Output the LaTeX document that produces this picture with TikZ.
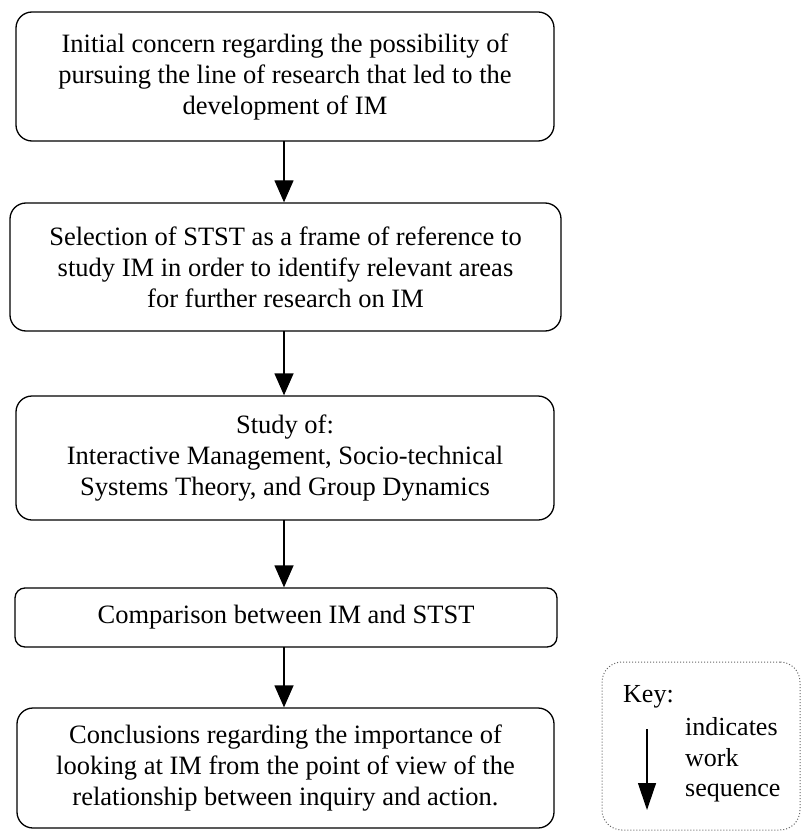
\documentclass[tikz,border=0pt]{standalone}
\usepackage{fontspec}
\setmainfont{Liberation Serif}
\usetikzlibrary{arrows.meta}
\begin{document}
\begin{tikzpicture}[x=1pt,y=-1pt,
  stagebox/.style={draw, line width=1.3pt, rounded corners=16pt, align=center,
    inner sep=0pt, font=\fontsize{26.5}{31}\selectfont},
  flow/.style={line width=1.3pt, -{Triangle[width=19pt,length=22pt]}},
  keybox/.style={draw, line width=1pt, dotted, rounded corners=20pt, gray!80!black},
  keytext/.style={font=\fontsize{26}{30.5}\selectfont, inner sep=0pt, align=left}]
  \useasboundingbox (0,0) rectangle (803,834);

  % work stages
  \node[stagebox, minimum width=538pt, minimum height=129pt] (b1) at (285,76.5)
    {Initial concern regarding the possibility of\\pursuing the line of research that led to the\\development of IM};
  \node[stagebox, minimum width=551pt, minimum height=128pt] (b2) at (285.5,267)
    {Selection of STST as a frame of reference to\\study IM in order to identify relevant areas\\for further research on IM};
  \node[stagebox, minimum width=538pt, minimum height=124pt] (b3) at (285,458)
    {Study of:\\Interactive Management, Socio-technical\\Systems Theory, and Group Dynamics};
  \node[stagebox, rounded corners=10pt, minimum width=542pt, minimum height=59pt] (b4) at (286,617.5)
    {Comparison between IM and STST};
  \node[stagebox, minimum width=537pt, minimum height=120pt] (b5) at (285.5,768)
    {Conclusions regarding the importance of\\looking at IM from the point of view of the\\relationship between inquiry and action.};

  % sequence arrows
  \coordinate (a1) at (284,141);
  \coordinate (a2) at (284,331);
  \coordinate (a3) at (284,520);
  \coordinate (a4) at (284,647);
  \draw[flow] (a1) -- (a1 |- b2.north);
  \draw[flow] (a2) -- (a2 |- b3.north);
  \draw[flow] (a3) -- (a3 |- b4.north);
  \draw[flow] (a4) -- (a4 |- b5.north);

  % key
  \node[keybox, minimum width=198pt, minimum height=168pt] (key) at (701,746) {};
  \node[keytext, anchor=west] (keylabel) at (623,697) {Key:};
  \node[keytext, anchor=west] (keydesc) at (685,760) {indicates\\work\\sequence};
  \coordinate (k1) at (647,729);
  \coordinate (k2) at (647,810);
  \draw[line width=1.3pt, -{Triangle[width=18pt,length=27pt]}] (k1) -- (k2);
\end{tikzpicture}
\end{document}
